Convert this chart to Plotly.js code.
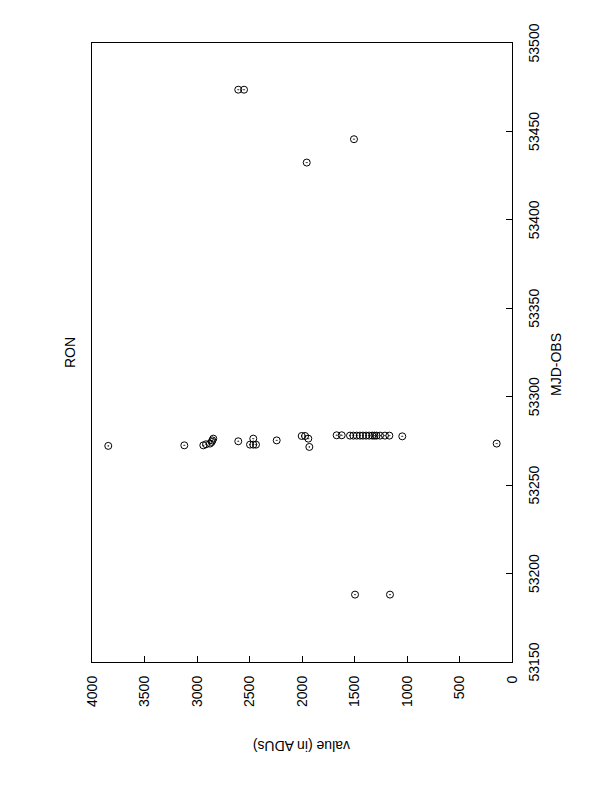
<!DOCTYPE html>
<html>
<head>
<meta charset="utf-8">
<script src="https://cdn.plot.ly/plotly-3.0.1.min.js"></script>
<style>
html, body { margin:0; padding:0; background:#fff; width:612px; height:792px; overflow:hidden; }
#chart { position:absolute; left:0; top:0; width:792px; height:612px;
  transform-origin: 0 0; transform: translate(0px, 792px) rotate(-90deg); }
</style>
</head>
<body>
<div id="chart"></div>
<script>
// MJD-OBS of each measurement
var mjd = [
  53473.6, 53473.6, 53445.6, 53432.4, 53188.1, 53188.1,
  53272.2, 53272.5, 53272.5, 53273.1, 53273.5, 53274.4, 53275.3, 53276.3,
  53274.8, 53276.3, 53272.9, 53272.9, 53272.9, 53275.3,
  53277.8, 53277.8, 53276.3, 53271.6,
  53278.2, 53278.2, 53278.0, 53278.0, 53278.0, 53278.0, 53278.0, 53278.0,
  53278.0, 53278.0, 53278.0, 53278.0, 53278.0, 53278.0, 53278.0, 53277.6,
  53273.5
];
// RON value (in ADUs)
var value = [
  2607, 2552, 1505, 1955, 1495, 1162,
  3845, 3121, 2940, 2914, 2876, 2860, 2854, 2845,
  2607, 2464, 2495, 2464, 2438, 2241,
  2003, 1971, 1940, 1930,
  1670, 1622, 1543, 1511, 1479, 1448, 1420, 1390,
  1360, 1330, 1310, 1290, 1257, 1210, 1168, 1045,
  146
];
var xTicks = [53150, 53200, 53250, 53300, 53350, 53400, 53450, 53500];
var yTicks = [0, 500, 1000, 1500, 2000, 2500, 3000, 3500, 4000];

var font = {family: '"Liberation Sans", Arial, Helvetica, sans-serif', size: 14, color: '#000'};

var trace = {
  x: mjd, y: value, type: 'scatter', mode: 'markers',
  marker: {symbol: 'circle-open-dot', size: 7, color: '#000', line: {width: 1, color: '#000'}},
  hoverinfo: 'x+y'
};

var layout = {
  width: 792, height: 612,
  margin: {l: 130, r: 43, t: 92, b: 100},
  paper_bgcolor: '#fff', plot_bgcolor: '#fff',
  showlegend: false,
  font: font,
  xaxis: {
    range: [53150, 53500], tickvals: xTicks, ticktext: xTicks.map(String),
    ticks: 'inside', ticklen: 6, tickwidth: 1, tickcolor: '#000',
    showline: true, linecolor: '#000', linewidth: 1, mirror: true,
    showgrid: false, zeroline: false, tickfont: font, ticklabelstandoff: 9
  },
  yaxis: {
    range: [0, 4000], tickvals: yTicks, ticktext: yTicks.map(String),
    ticks: 'inside', ticklen: 6, tickwidth: 1, tickcolor: '#000',
    showline: true, linecolor: '#000', linewidth: 1, mirror: true,
    showgrid: false, zeroline: false, tickfont: font, ticklabelstandoff: 10
  },
  annotations: [
    {text: 'RON', xref: 'paper', yref: 'paper', x: 0.5, y: 1 + 22/420,
     xanchor: 'center', yanchor: 'middle', showarrow: false, font: {family: font.family, size: 14, color: '#000'}},
    {text: 'MJD-OBS', xref: 'paper', yref: 'paper', x: 0.48, y: -44/420,
     xanchor: 'center', yanchor: 'middle', showarrow: false, font: {family: font.family, size: 14, color: '#000'}},
    {text: 'value (in ADUs)', xref: 'paper', yref: 'paper', x: -84/619, y: 0.5, textangle: -90,
     xanchor: 'center', yanchor: 'middle', showarrow: false, font: {family: font.family, size: 14, color: '#000'}}
  ]
};

Plotly.newPlot('chart', [trace], layout, {staticPlot: true, displayModeBar: false});
</script>
</body>
</html>
